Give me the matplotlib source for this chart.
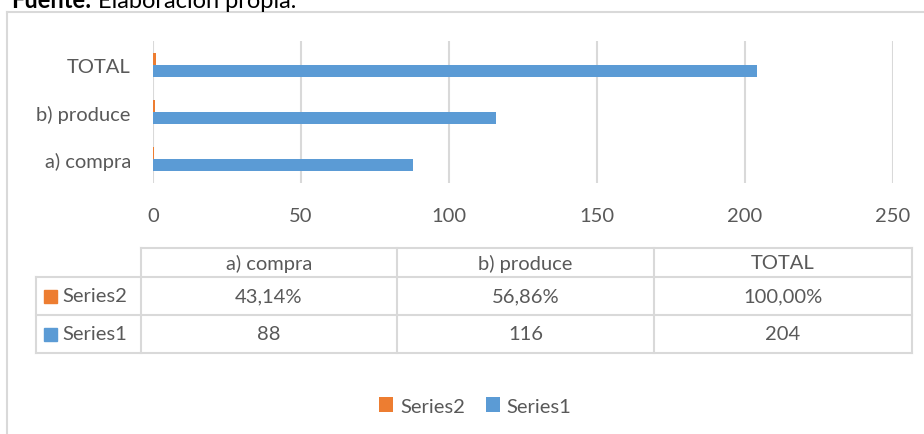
import matplotlib.pyplot as plt
from matplotlib.patches import Rectangle
import numpy as np

plt.rcParams['font.family'] = ['Lato', 'DejaVu Sans']

categories = ["a) compra", "b) produce", "TOTAL"]
series1 = [88, 116, 204]
series2 = [0.4314, 0.5686, 1.0]
series2_text = ["43,14%", "56,86%", "100,00%"]
series1_text = ["88", "116", "204"]
xticks = [0, 50, 100, 150, 200, 250]

blue = "#5B9BD5"
orange = "#ED7D31"
txt = "#595959"
grid = "#D9D9D9"
fs = 14.5

W, H = 924, 435
fig = plt.figure(figsize=(W / 100, H / 100), dpi=100)

# overlay in pixel coords for frame, table, title
ov = fig.add_axes([0, 0, 1, 1])
ov.set_xlim(0, W)
ov.set_ylim(H, 0)
ov.axis("off")

ax = fig.add_axes([153 / W, 1 - 184 / H, 740 / W, 142 / H])

y = np.arange(len(categories))
h = 0.254
b1 = ax.barh(y - h / 2, series1, height=h, color=blue, label="Series1", zorder=3)
b2 = ax.barh(y + h / 2, series2, height=h, color=orange, label="Series2", zorder=3)

ax.set_xlim(0, 250)
ax.set_ylim(-0.5, 2.5)
ax.set_xticks(xticks)
ax.set_yticks(y)
ax.set_yticklabels(categories)
ax.grid(axis="x", color=grid, linewidth=1.5, zorder=0)
for s in ax.spines.values():
    s.set_visible(False)
ax.tick_params(length=0, labelsize=fs, labelcolor=txt)
ax.tick_params(axis="y", pad=16)
ax.tick_params(axis="x", pad=17)

# chart frame (left and top edges)
ov.plot([6.5, 6.5], [13, H], color=grid, lw=1.5)
ov.plot([6.5, W], [13, 13], color=grid, lw=1.5)

# title (cut at the top like the source)
ov.text(91, 8.5, "Fuente:", fontsize=17, fontweight="bold", color="black", va="baseline", ha="right")
ov.text(98, 8.5, "Elaboración propia.", fontsize=17, color="black", va="baseline", ha="left")

# data table
cols = [36, 141, 397, 654, 912]
rows = [249, 278, 316, 354]
lc = "#D9D9D9"
ov.plot([cols[1], cols[-1]], [rows[0], rows[0]], color=lc, lw=1.5)
for r in rows[1:]:
    ov.plot([cols[0], cols[-1]], [r, r], color=lc, lw=1.5)
ov.plot([cols[0], cols[0]], [rows[1], rows[-1]], color=lc, lw=1.5)
for c in cols[1:]:
    ov.plot([c, c], [rows[0], rows[-1]], color=lc, lw=1.5)

for i, cat in enumerate(categories):
    cx = (cols[i + 1] + cols[i + 2]) / 2
    ov.text(cx, (rows[0] + rows[1]) / 2, cat, ha="center", va="center", fontsize=fs, color=txt)
    ov.text(cx, (rows[1] + rows[2]) / 2, series2_text[i], ha="center", va="center", fontsize=fs, color=txt)
    ov.text(cx, (rows[2] + rows[3]) / 2, series1_text[i], ha="center", va="center", fontsize=fs, color=txt)

for name, col, (r0, r1) in [("Series2", orange, (rows[1], rows[2])), ("Series1", blue, (rows[2], rows[3]))]:
    cy = (r0 + r1) / 2
    ov.add_patch(Rectangle((44, cy - 6.5), 13, 13, color=col))
    ov.text(62, cy, name, ha="left", va="center", fontsize=fs, color=txt)

leg = fig.legend([b2, b1], ["Series2", "Series1"], loc="center", bbox_to_anchor=(0.5145, 1 - 407 / H),
                 ncol=2, frameon=False, fontsize=fs, handlelength=0.7, handleheight=0.7,
                 handletextpad=0.35, columnspacing=1.0, labelcolor=txt)

fig.savefig("out.png", dpi=100)
